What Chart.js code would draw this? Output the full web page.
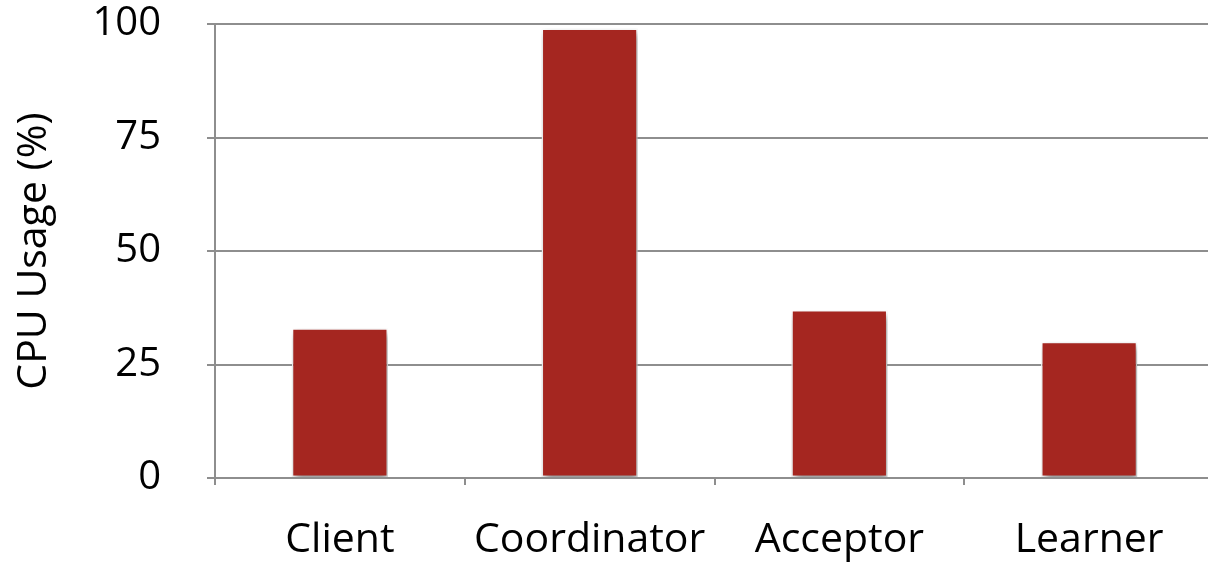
<!DOCTYPE html>
<html>
<head>
<meta charset="utf-8">
<script src="https://cdn.jsdelivr.net/npm/chart.js@4.4.0/dist/chart.umd.min.js"></script>
<style>
  html, body { margin: 0; padding: 0; background: #fff; overflow: hidden; }
  #wrap { width: 1214px; height: 562px; }
</style>
</head>
<body>
<div id="wrap"><canvas id="grafico" width="1214" height="562"></canvas></div>
<script>
// dados
const categorias = ['Client', 'Coordinator', 'Acceptor', 'Learner'];
const usoCpu = [33, 99, 37, 30];
const ticksY = [0, 25, 50, 75, 100];

const corBarra = '#a52620';
const corGrade = '#8e8e8e';
const fonte = "'Open Sans', 'DejaVu Sans', sans-serif";

// sombra leve atrás das barras
const sombraBarras = {
    id: 'sombraBarras',
    beforeDatasetsDraw(chart) {
        const ctx = chart.ctx;
        ctx.save();
        ctx.shadowColor = 'rgba(0,0,0,0.45)';
        ctx.shadowBlur = 7;
        ctx.shadowOffsetX = 2;
        ctx.shadowOffsetY = 4;
    },
    afterDatasetsDraw(chart) {
        chart.ctx.restore();
    }
};

new Chart(document.getElementById('grafico').getContext('2d'), {
    type: 'bar',
    data: {
        labels: categorias,
        datasets: [{
            label: 'CPU Usage (%)',
            data: usoCpu,
            backgroundColor: corBarra,
            borderColor: '#ffffff',
            borderWidth: 1.5,
            borderSkipped: false,
            categoryPercentage: 1,
            barPercentage: 0.385
        }]
    },
    options: {
        responsive: false,
        animation: false,
        layout: { padding: { top: 24, left: 0, right: 0, bottom: 0 } },
        plugins: {
            legend: { display: false },
            tooltip: { enabled: false }
        },
        scales: {
            x: {
                offset: true,
                grid: {
                    display: true,
                    offset: true,
                    drawOnChartArea: false,
                    drawTicks: true,
                    tickLength: 7,
                    color: corGrade,
                    lineWidth: 2
                },
                border: { color: corGrade, width: 2 },
                ticks: {
                    color: '#000',
                    padding: 31,
                    maxRotation: 0,
                    font: { family: fonte, size: 41 }
                },
                afterFit(scale) {
                    scale.height = 84;
                    scale.paddingLeft = 0;
                    scale.paddingRight = 0;
                }
            },
            y: {
                min: 0,
                max: 100,
                afterBuildTicks(scale) {
                    scale.ticks = ticksY.map(v => ({ value: v }));
                },
                grid: {
                    color: corGrade,
                    lineWidth: 2,
                    tickLength: 8
                },
                border: { color: corGrade, width: 2 },
                ticks: {
                    color: '#000',
                    padding: 46,
                    font: { family: fonte, size: 40 }
                },
                title: {
                    display: true,
                    text: 'CPU Usage (%)',
                    color: '#000',
                    padding: { top: 10, bottom: 0 },
                    font: { family: fonte, size: 41, weight: 'normal' }
                },
                afterFit(scale) {
                    scale.width = 215;
                    scale.paddingTop = 0;
                    scale.paddingBottom = 0;
                }
            }
        }
    },
    plugins: [sombraBarras]
});
</script>
</body>
</html>
